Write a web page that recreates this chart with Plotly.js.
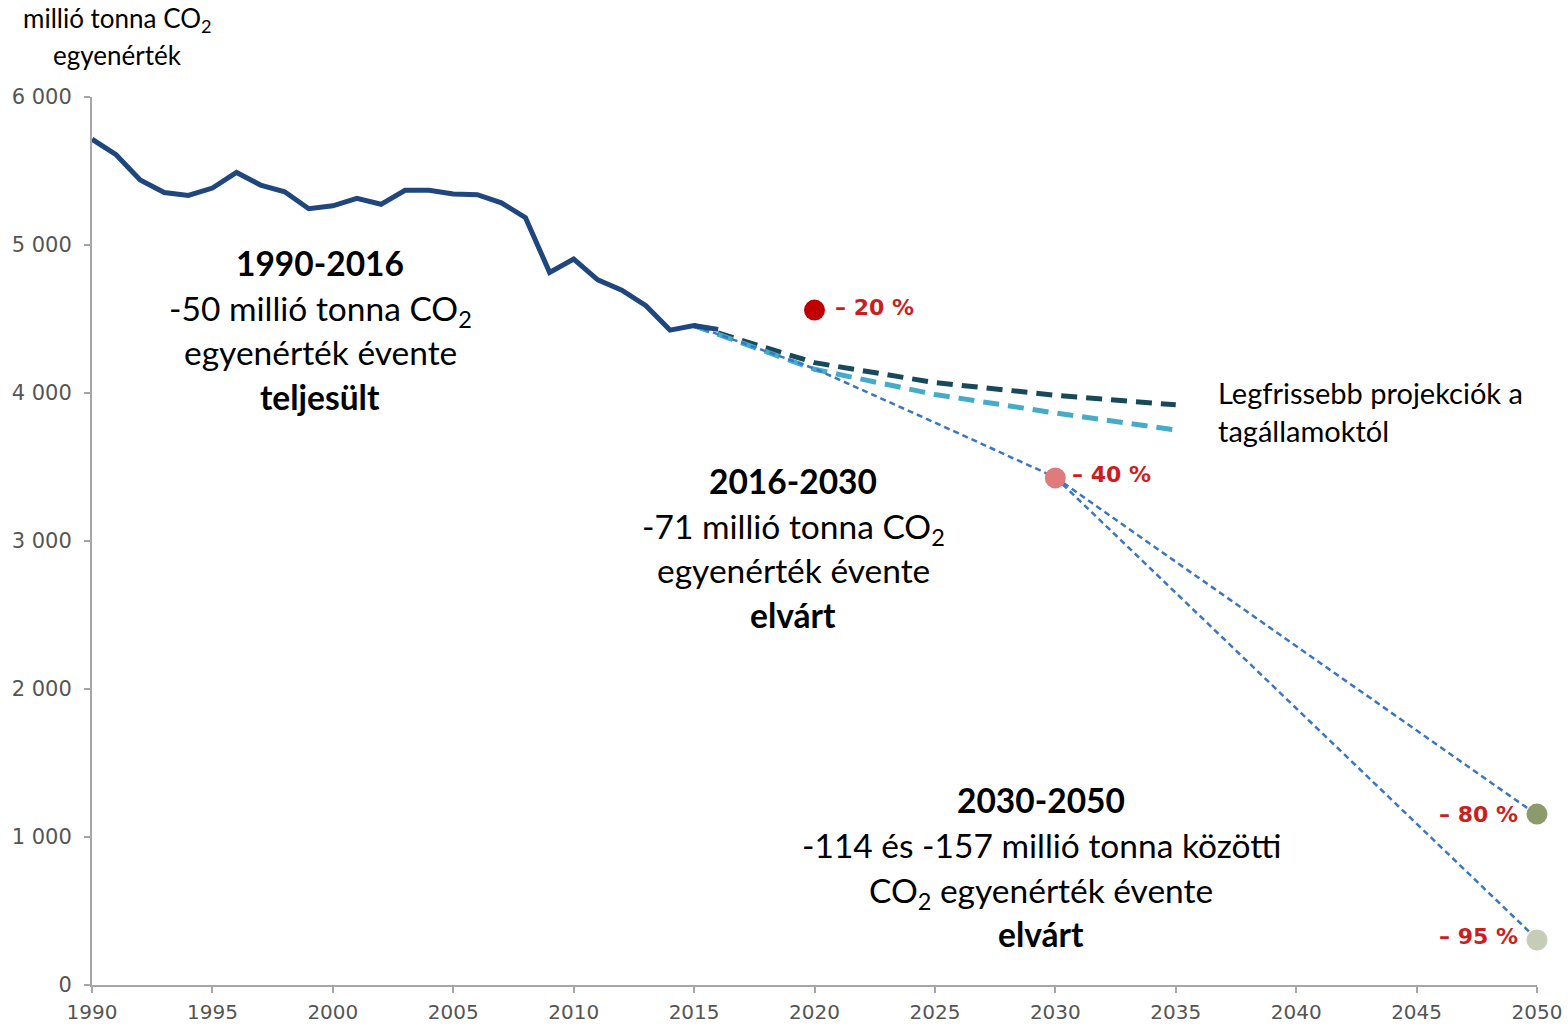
<!DOCTYPE html>
<html>
<head>
<meta charset="utf-8">
<script src="https://cdn.plot.ly/plotly-3.0.1.min.js"></script>
<style>html,body{margin:0;padding:0;background:#fff;}#chart{width:1568px;height:1027px;}</style>
</head>
<body>
<div id="chart"></div>
<script>
// Historical emissions (million tonnes CO2 equivalent)
const histYears = [1990,1991,1992,1993,1994,1995,1996,1997,1998,1999,2000,2001,2002,2003,2004,2005,2006,2007,2008,2009,2010,2011,2012,2013,2014,2015,2016];
const histValues = [5715,5610,5440,5355,5335,5385,5490,5405,5360,5245,5265,5315,5275,5370,5370,5345,5340,5285,5185,4815,4905,4765,4695,4590,4425,4455,4430];

// Member state projections
const projYears = [2015,2020,2025,2030,2035];
const projDark = [4455,4205,4070,3985,3920];
const projLight = [4455,4160,3990,3865,3750];

// Required pathways
const path1Years = [2015,2020,2025,2030];
const path1Values = [4455,4165,3800,3430];
const path2Years = [2030,2050];
const path80Values = [3430,1150];
const path95Values = [3430,310];

// Target markers
const targetYears = [2020,2030,2050,2050];
const targetValues = [4560,3426,1155,304];
const targetLabels = ['– 20 %','– 40 %','– 80 %','– 95 %'];
const targetColors = ['#c00000','#e07b7b','#8c9a6c','#c6cdb6'];

const yTickVals = [0,1000,2000,3000,4000,5000,6000];
const yTickText = ['0','1 000','2 000','3 000','4 000','5 000','6 000'];
const xTickVals = [1990,1995,2000,2005,2010,2015,2020,2025,2030,2035,2040,2045,2050];

const traces = [
  {x: projYears, y: projDark, mode:'lines', line:{color:'#17495a', width:5, dash:'16px,9px'}, hoverinfo:'skip'},
  {x: projYears, y: projLight, mode:'lines', line:{color:'#46abc9', width:5, dash:'16px,9px'}, hoverinfo:'skip'},
  {x: path1Years, y: path1Values, mode:'lines', line:{color:'#3b76c4', width:2.5, dash:'6px,4px'}, hoverinfo:'skip'},
  {x: path2Years, y: path80Values, mode:'lines', line:{color:'#3b76c4', width:2.5, dash:'6px,4px'}, hoverinfo:'skip'},
  {x: path2Years, y: path95Values, mode:'lines', line:{color:'#3b76c4', width:2.5, dash:'6px,4px'}, hoverinfo:'skip'},
  {x: histYears, y: histValues, mode:'lines', line:{color:'#1f477d', width:5}, hoverinfo:'skip'},
  {x: targetYears, y: targetValues, mode:'markers', cliponaxis:false,
   marker:{size:21, color: targetColors}, hoverinfo:'skip'}
];

// pixel helpers for annotation placement
const X0=92, X1=1537, Y0=985, Y1=97;
const px2x = p => 1990 + (p - X0) * 60 / (X1 - X0);
const px2y = p => (Y0 - p) * 6000 / (Y0 - Y1);
const px2px = p => (p - X0) / (X1 - X0);
const py2py = p => (Y0 - p) / (Y0 - Y1);

const txtFont = {family:'Lato, "Open Sans", sans-serif', size:33.5, color:'#000'};
function line(text, cx, cy){
  return {x:px2x(cx), y:px2y(cy), xref:'x', yref:'y', text:text, showarrow:false,
          xanchor:'center', yanchor:'middle', font:txtFont};
}
const pctFont = {family:'"DejaVu Sans", Verdana, sans-serif', size:22, color:'#cc1e1e'};
const sideFont = {family:'Lato, "Open Sans", sans-serif', size:29, color:'#000'};
const unitFont = {family:'Lato, "Open Sans", sans-serif', size:26, color:'#000'};

const annotations = [
  line('<b>1990-2016</b>', 320, 263),
  line('-50 millió tonna CO<sub>2</sub>', 320, 310),
  line('egyenérték évente', 320, 352),
  line('<b>teljesült</b>', 320, 397),
  line('<b>2016-2030</b>', 793, 481),
  line('-71 millió tonna CO<sub>2</sub>', 793, 528),
  line('egyenérték évente', 793, 570),
  line('<b>elvárt</b>', 793, 615),
  line('<b>2030-2050</b>', 1041, 800),
  line('-114 és -157 millió tonna közötti', 1041, 845),
  line('CO<sub>2</sub> egyenérték évente', 1041, 892),
  line('<b>elvárt</b>', 1041, 934),
  {x:px2x(833), y:px2y(307), xref:'x', yref:'y', text:'<b>'+targetLabels[0]+'</b>', showarrow:false, xanchor:'left', yanchor:'middle', font:pctFont},
  {x:px2x(1070), y:px2y(474), xref:'x', yref:'y', text:'<b>'+targetLabels[1]+'</b>', showarrow:false, xanchor:'left', yanchor:'middle', font:pctFont},
  {x:px2x(1520), y:px2y(814), xref:'x', yref:'y', text:'<b>'+targetLabels[2]+'</b>', showarrow:false, xanchor:'right', yanchor:'middle', font:pctFont},
  {x:px2x(1520), y:px2y(936), xref:'x', yref:'y', text:'<b>'+targetLabels[3]+'</b>', showarrow:false, xanchor:'right', yanchor:'middle', font:pctFont},
  {x:px2x(1216), y:px2y(392), xref:'x', yref:'y', text:'Legfrissebb projekciók a', showarrow:false, xanchor:'left', yanchor:'middle', font:sideFont},
  {x:px2x(1216), y:px2y(430), xref:'x', yref:'y', text:'tagállamoktól', showarrow:false, xanchor:'left', yanchor:'middle', font:sideFont},
  {x:px2px(117), y:py2py(20), xref:'paper', yref:'paper', text:'millió tonna CO<sub>2</sub>', showarrow:false, xanchor:'center', yanchor:'middle', font:unitFont},
  {x:px2px(117), y:py2py(55), xref:'paper', yref:'paper', text:'egyenérték', showarrow:false, xanchor:'center', yanchor:'middle', font:unitFont}
];

const tickFont = {family:'"DejaVu Sans", Verdana, sans-serif', size:20, color:'#555'};
const layout = {
  width:1568, height:1027,
  margin:{l:X0, r:1568-X1, t:Y1, b:1027-Y0, pad:0},
  paper_bgcolor:'#fff', plot_bgcolor:'#fff',
  showlegend:false,
  xaxis:{range:[1990,2050], tickvals:xTickVals, ticks:'outside', ticklen:6, tickwidth:2, tickcolor:'#a6a6a6',
         showline:true, linecolor:'#a6a6a6', linewidth:2, showgrid:false, zeroline:false,
         ticklabelstandoff:2, tickfont:tickFont},
  yaxis:{range:[0,6000], tickvals:yTickVals, ticktext:yTickText, ticks:'outside', ticklen:6, tickwidth:2, tickcolor:'#a6a6a6',
         showline:true, linecolor:'#a6a6a6', linewidth:2, showgrid:false, zeroline:false,
         ticklabelstandoff:8, tickfont:{family:'"DejaVu Sans", Verdana, sans-serif', size:21, color:'#555'}},
  annotations: annotations
};

Plotly.newPlot('chart', traces, layout, {staticPlot:true, displayModeBar:false});
</script>
</body>
</html>
